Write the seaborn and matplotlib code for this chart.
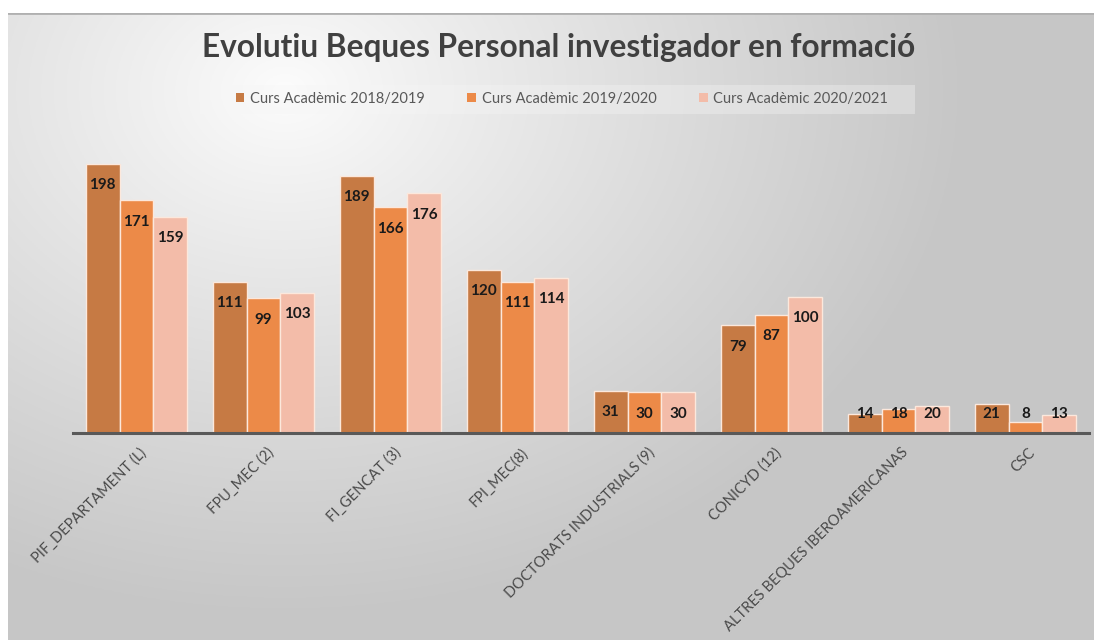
import numpy as np
import pandas as pd
import matplotlib
matplotlib.use("Agg")
import matplotlib.pyplot as plt
import seaborn as sns

categories = ["PIF_DEPARTAMENT (L)", "FPU_MEC (2)", "FI_GENCAT (3)", "FPI_MEC(8)",
              "DOCTORATS INDUSTRIALS (9)", "CONICYD (12)",
              "ALTRES BEQUES IBEROAMERICANAS", "CSC"]
series_names = ["Curs Acadèmic 2018/2019", "Curs Acadèmic 2019/2020", "Curs Acadèmic 2020/2021"]
v2018 = [198, 111, 189, 120, 31, 79, 14, 21]
v2019 = [171, 99, 166, 111, 30, 87, 18, 8]
v2020 = [159, 103, 176, 114, 30, 100, 20, 13]
colors = ["#C67A44", "#EC8A48", "#F3BCA9"]
title = "Evolutiu Beques Personal investigador en formació"

rows = []
for name, vals in zip(series_names, [v2018, v2019, v2020]):
    for c, v in zip(categories, vals):
        rows.append({"cat": c, "serie": name, "val": v})
df = pd.DataFrame(rows)

sns.set_theme(style="white")
plt.rcParams['font.family'] = ['Lato', 'DejaVu Sans']

W, H = 1094, 640
fig = plt.figure(figsize=(W / 100, H / 100), dpi=100)
fig.patch.set_facecolor("white")

# background gradient panel
bx0, by_top = 8, 13
bg = fig.add_axes([bx0 / W, 0, 1 - bx0 / W, (H - by_top) / H])
yy, xx = np.mgrid[0:300, 0:500]
cx, cy = 250 * (560 - bx0) / (W - bx0), 300 * (90 - by_top) / (H - by_top)
d = np.sqrt(((xx - cx) / 500) ** 2 + ((yy - cy) / 300 * 0.75) ** 2)
d = np.clip(d / 0.62, 0, 1)
g = 0.99 - 0.21 * d ** 0.9
bg.imshow(np.dstack([g, g, g]), aspect="auto", extent=[0, 1, 0, 1], origin="upper")
bg.set_xlim(0, 1); bg.set_ylim(0, 1)
bg.axhline(1, color="#b0b0b0", lw=2)
bg.axis("off")

# main axes
L, R = 73 / W, 1089 / W
base = (H - 433) / H
top = (H - 120) / H
ax = fig.add_axes([L, base, R - L, top - base])
ax.patch.set_alpha(0)
sns.barplot(data=df, x="cat", y="val", hue="serie", palette=colors, ax=ax,
            width=0.8, edgecolor="#FCE8DC", linewidth=1.0, saturation=1, legend=False)
ax.set_ylim(0, 230)
ax.set_xlim(-0.5, len(categories) - 0.5)
for s in ["top", "right", "left"]:
    ax.spines[s].set_visible(False)
ax.spines["bottom"].set_color("#595959")
ax.spines["bottom"].set_linewidth(2.2)
ax.set_yticks([])
ax.set_xlabel(""); ax.set_ylabel("")
ax.tick_params(axis="x", length=0, pad=9)
ax.set_xticks(range(len(categories)))
ax.set_xticklabels(categories, rotation=45, ha="right", rotation_mode="anchor",
                   fontsize=10.5, color="#4a4a4a")
for lab in ax.get_xticklabels():
    lab.set_transform(lab.get_transform() + matplotlib.transforms.ScaledTranslation(3 / 100, 0, fig.dpi_scale_trans))

# data labels
for cont in ax.containers:
    for bar in cont:
        v = bar.get_height()
        xc = bar.get_x() + bar.get_width() / 2
        if v >= 25:
            ax.annotate(f"{int(v)}", xy=(xc, v), xytext=(0, -15.5), textcoords="offset points",
                        ha="center", va="center", fontsize=11, fontweight="bold", color="#1a1a1a")
        else:
            ax.annotate(f"{int(v)}", xy=(xc, 0), xytext=(0, 14), textcoords="offset points",
                        ha="center", va="center", fontsize=11, fontweight="bold", color="#1a1a1a")

# title
fig.text(559 / W, 1 - 48 / H, title, ha="center", va="center", fontsize=22.8,
         fontweight="bold", color="#404040")

# legend
from matplotlib.patches import Patch, Rectangle
fig.patches.append(Rectangle((200 / W, 1 - 114 / H), 715 / W, 29 / H, transform=fig.transFigure,
                             facecolor="#f6f6f6", edgecolor="none", alpha=0.35, zorder=0))
handles = [Patch(facecolor=c, edgecolor="none") for c in colors]
leg = fig.legend(handles, series_names, loc="center", bbox_to_anchor=(562 / W, 1 - 99 / H),
                 ncol=3, frameon=False, fontsize=10.5, handlelength=0.6, handleheight=0.6,
                 handletextpad=0.4, columnspacing=2.9, labelcolor="#595959")

fig.savefig("out.png", dpi=100)
